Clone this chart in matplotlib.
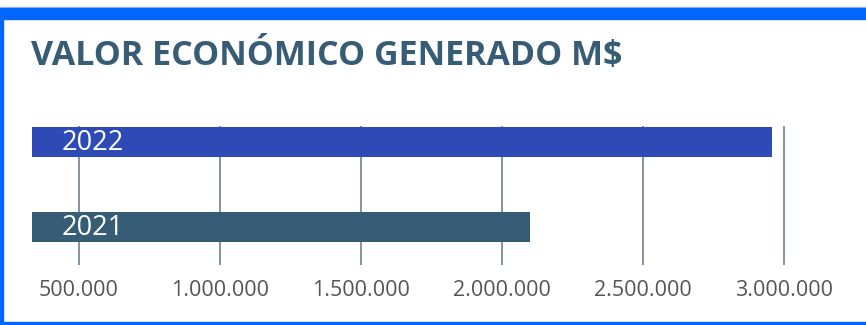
import matplotlib.pyplot as plt
from matplotlib.patches import Rectangle
from matplotlib.ticker import FuncFormatter

# valor economico generado, en M$
years = ['2021', '2022']
values = [2100000, 2960000]
bar_colors = ['#365d75', '#2e4ab6']
ticks = [500000, 1000000, 1500000, 2000000, 2500000, 3000000]

W, H = 866, 325
fig = plt.figure(figsize=(W / 100, H / 100), dpi=100)

# axes box in pixels: x 32..850, y 126..265
ax = fig.add_axes([32 / W, (H - 265) / H, (850 - 32) / W, (265 - 126) / H])
ax.barh(range(len(years)), values, height=0.36, color=bar_colors, zorder=3)
ax.set_xlim(335000, 3235000)
ax.set_ylim(-0.45, 1.19)
ax.set_xticks(ticks)
ax.xaxis.set_major_formatter(FuncFormatter(lambda v, p: f'{int(v):,}'.replace(',', '.')))
ax.set_yticks([])
ax.grid(axis='x', color='#7d8b98', linewidth=1.3, zorder=0)
ax.tick_params(axis='x', length=0, pad=11, labelsize=15.5, labelcolor='#555555')
for lab in ax.get_xticklabels():
    lab.set_fontfamily('Open Sans')
for s in ax.spines.values():
    s.set_visible(False)

for i, y in enumerate(years):
    ax.annotate(y, xy=(0, i), xycoords=ax.get_yaxis_transform(),
                xytext=(21, -1), textcoords='offset points',
                va='center', ha='left', color='white',
                fontsize=19.5, family='Open Sans', zorder=4)

fig.text(31 / W, 1 - 65 / H, 'VALOR ECONÓMICO GENERADO M$', family='Open Sans',
         fontweight='bold', fontsize=24.5, color='#365d75', va='baseline', ha='left')

# blue frame
fig.patches.append(Rectangle((0, 1 - 8 / H), 1, 1 / H, transform=fig.transFigure,
                             color='#a9c8f8', zorder=0))
fig.patches.append(Rectangle((0, 1 - 19 / H), 1, 11 / H, transform=fig.transFigure,
                             color='#0066ff', zorder=0))
fig.patches.append(Rectangle((0, 0), 2.5 / W, 1 - 19 / H, transform=fig.transFigure,
                             color='#0066ff', zorder=0))
fig.patches.append(Rectangle((0, 0), 1, 3 / H, transform=fig.transFigure,
                             color='#0066ff', zorder=0))

fig.savefig('out.png', dpi=100)
